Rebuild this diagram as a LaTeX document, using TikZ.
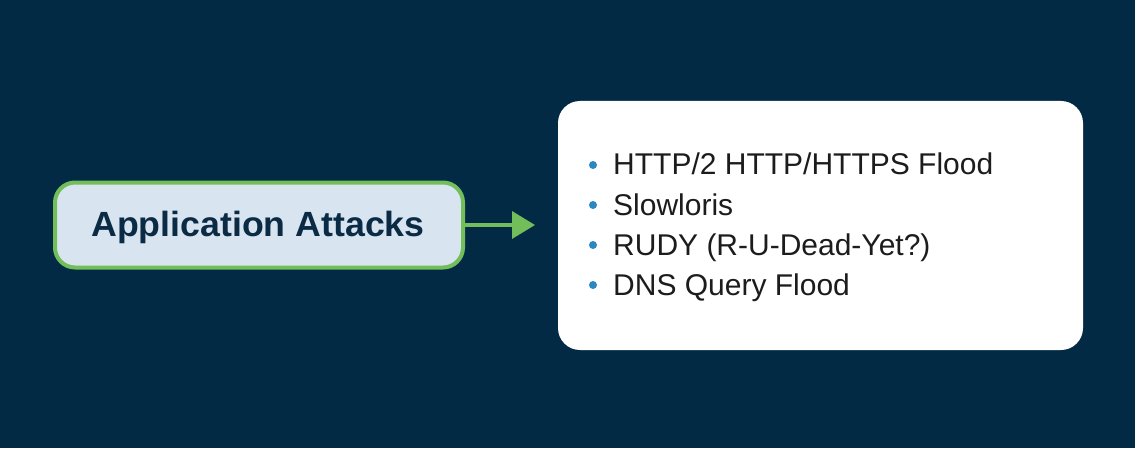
\documentclass[tikz,border=0pt]{standalone}
\usepackage{fontspec}
\setmainfont{Liberation Sans}
\usetikzlibrary{arrows.meta}
\definecolor{bgnavy}{HTML}{032A45}
\definecolor{boxblue}{HTML}{D8E5F1}
\definecolor{boxgreen}{HTML}{72BE5B}
\definecolor{titlenavy}{HTML}{0B2B45}
\definecolor{bulletblue}{HTML}{2E86C1}
\definecolor{itemtext}{HTML}{1C1C1C}
\tikzset{
  catbox/.style={draw=boxgreen, line width=4pt, fill=boxblue, rounded corners=20pt,
    minimum width=408pt, minimum height=85pt, inner sep=0pt},
  listbox/.style={fill=white, rounded corners=22pt, minimum width=525pt,
    minimum height=249pt, inner sep=0pt},
  linkarrow/.style={draw=boxgreen, line width=3.5pt, -{Triangle[length=23pt,width=27pt]}},
  itemline/.style={anchor=base west, inner sep=0pt, text=itemtext, font=\fontsize{30}{36}\selectfont},
  dot/.style={circle, fill=bulletblue, inner sep=0pt, minimum size=8pt}
}
\begin{document}
\begin{tikzpicture}[x=1pt,y=1pt]
\fill[bgnavy] (0,0) rectangle (1135,448);
\useasboundingbox (0,0) rectangle (1135,448);
\node[catbox] (cat) at (259,223) {};
\node[text=titlenavy, inner sep=0pt, anchor=base] (cattitle) at (258,212)
  {\scalebox{1.02}[1]{\fontsize{35}{40}\selectfont\bfseries Application Attacks}};
\node[listbox] (list) at (820.5,222.5) {};
\coordinate (arrowend) at (535,223);
\draw[linkarrow] (cat.east) -- (arrowend);
\node[dot] (b1) at (593,283) {};
\node[dot] (b2) at (593,243) {};
\node[dot] (b3) at (593,203) {};
\node[dot] (b4) at (593,163) {};
\node[itemline] (i1) at (613,273) {HTTP/2 HTTP/HTTPS Flood};
\node[itemline] (i2) at (613,233) {Slowloris};
\node[itemline] (i3) at (613,193) {RUDY (R-U-Dead-Yet?)};
\node[itemline] (i4) at (613,153) {DNS Query Flood};
\end{tikzpicture}
\end{document}
